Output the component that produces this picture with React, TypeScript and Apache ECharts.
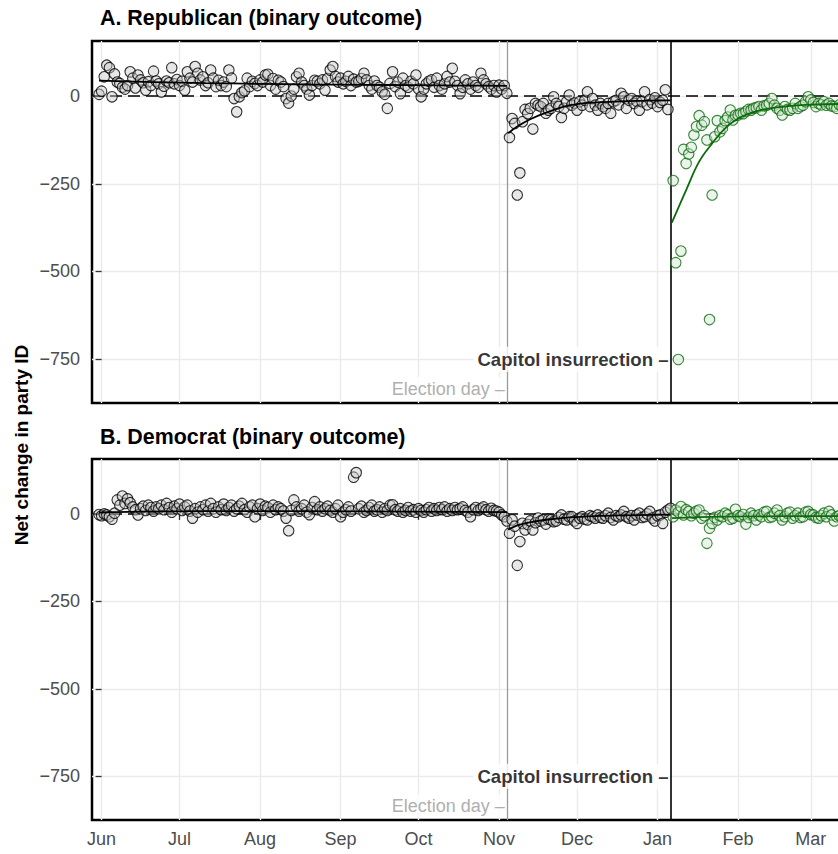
import React, { useEffect, useRef } from 'react';
import * as echarts from 'echarts';

// Day index: 0 = 2020-06-01
const monthTickDays = [0, 30, 61, 92, 122, 153, 183, 214, 245, 273];
const monthTickLabels = ['Jun', 'Jul', 'Aug', 'Sep', 'Oct', 'Nov', 'Dec', 'Jan', 'Feb', 'Mar'];
const yTickValues = [-750, -500, -250, 0];

const electionDay = 156; // line drawn just after Nov 3
const capitolDay = 219; // Jan 6

// Republican
const repPreStart = -1;
const repPre = [5, 14, 55, 88, 81, -2, 63, 40, 36, 25,
  20, 30, 69, 51, 23, 60, 46, 38, 17, 41,
  30, 71, 43, 35, 12, 28, 43, 38, 81, 35,
  47, 30, 42, 17, 69, 51, 40, 84, 65, 46,
  55, 30, 38, 74, 51, 27, 45, 30, 40, 27,
  74, 51, -7, -45, -2, 10, 15, 51, 27, 42,
  36, 30, 46, 40, 60, 62, 30, 50, 20, 45,
  40, 27, -7, -20, 0, 20, 55, 65, 40, 30,
  20, 3, 30, 45, 42, 35, 46, 17, 50, 74,
  84, 56, 40, 51, 35, 42, 56, 30, 48, 40,
  42, 50, 65, 46, 30, 20, 43, 30, 25, 12,
  5, -35, 36, 69, 27, 40, 7, 51, 30, 25,
  42, 35, 60, 20, -2, 20, 35, 42, 46, 25,
  51, 30, 20, 35, 56, 40, 79, 42, 30, 7,
  25, 46, 35, 20, 40, 30, 25, 65, 46, 35,
  27, 20, 30, 12, 31, 20, 30, 8];
const repPostStart = 157;
const repPost = [-118, -64, -78, -282, -219, -73, -38, -50, -35, -94,
  -21, -26, -30, -21, -49, -40, -35, -2, -21, -30,
  -61, -35, -16, 3, -26, -20, -40, -16, -26, -12,
  12, -30, -7, -26, -40, -21, -30, -35, -21, -49,
  -16, -12, -25, 8, -2, -35, -12, -7, -21,
  -15, -40, -16, 12, -25, -10, -20, -5, -30, -18,
  -12, 18, -38];
const repJanStart = 220;
const repJan = [-241, -475, -751, -442, -152, -192, -165, -146, -111, -87,
  -56, -83, -73, -125, -637, -282, -116, -70, -102, -92,
  -70, -60, -40, -68, -55, -54, -49, -50, -44, -38,
  -40, -35, -33, -30, -40, -28, -26, -21, -7, -26,
  -35, -40, -54, -30, -38, -40, -35, -21, -35, -30,
  -26, -16, -2, -11, -18, -30, -21, -25, -16, -26,
  -21, -28, -30, -35, -25, -30, -22];
const repPreFitDays = [-1, 20, 40, 60, 80, 100, 120, 140, 156];
const repPreFitVals = [44, 40, 37, 35, 33, 32, 31, 30, 29];
const repPostFitDays = [156.5, 160, 165, 172, 178, 185, 191, 200, 210, 219];
const repPostFitVals = [-106, -87, -66, -45, -30, -21, -18, -15, -13, -12];
const repJanFitDays = [219.5, 225, 230, 235, 240, 245, 250, 255, 265, 275, 290];
const repJanFitVals = [-361, -268, -187, -135, -92, -64, -48, -38, -28, -24, -22];

// Democrat
const demPreStart = -1;
const demPre = [-2, -5, 0, -3, -8, -15, 2, 40, 25, 51,
  30, 43, 32, 20, 12, -3, 15, 22, 10, 25,
  18, 8, 20, 15, 25, 12, 30, 18, 5, 22,
  15, 28, 10, 20, 25, 8, -12, 15, 5, 20,
  12, 25, 8, 30, 15, 5, 20, 12, 28, 10,
  18, 25, 8, 15, 22, 30, 12, 5, 20, 25,
  -8, 15, 28, 10, 22, 18, 5, 25, 12, 20,
  15, 8, -12, -48, 10, 40, 20, 8, 15, 25,
  5, -2, 18, 35, 12, 20, 8, 15, 22, 10,
  5, 15, 25, -8, 5, 12, 20, 8, 105, 118,
  15, 22, 5, 10, 18, 25, 8, 12, 20, 5,
  15, 10, 25, 26, 12, 8, 15, 5, 10, 18,
  8, 12, 5, 15, 10, 5, 12, 18, 8, 15,
  10, 18, 12, 20, 8, 15, 10, 18, 12, 15,
  20, 10, 5, -8, 12, 18, 10, 15, 20, 12,
  8, 16, 10, 8, 5, -3, -8, -20];
const demPostStart = 157;
const demPost = [-55, -17, -35, -147, -79, -27, -46, -30, -20, -46,
  -25, -12, -20, -17, -29, -15, -17, -22, -20, -10,
  -3, -15, -17, -8, -8, -20, -27, -12, -8, -15,
  -17, -5, -8, -12, -3, -10, -12, -5, 2, -10,
  -17, -5, -8, -3, 7, -8, -12, -5, -17, -3,
  2, -10, -8, 0, 7, -12, -20, -5, -3, -27,
  5, 11, 16];
const demJanStart = 220;
const demJan = [-8, 11, 5, 21, -3, 12, 7, -5, 2, 8,
  11, -12, -5, -84, -41, -27, -10, -17, -5, -8,
  2, -3, -15, -12, 13, -5, -8, -2, -29, -10,
  2, -5, -17, -3, -8, 5, 7, -10, -8, 2,
  11, -5, -17, -8, 2, 5, -12, -5, 2, -10,
  -8, 5, 7, -2, -3, -10, -12, -5, 2, -8,
  7, -3, -20, -8, -5, -10, -3];
const demPreFitDays = [-1, 40, 100, 156];
const demPreFitVals = [4, 8, 7, 5];
const demPostFitDays = [156.5, 160, 165, 172, 180, 190, 200, 219];
const demPostFitVals = [-45, -33, -24, -16, -10, -6, -4, -2];
const demJanFitDays = [219.5, 230, 250, 290];
const demJanFitVals = [-12, -9, -7, -6];

const FONT = '"Liberation Sans", Arial, Helvetica, sans-serif';

const pts = (start: number, vals: number[]) => vals.map((v, i) => [start + i, v]);
const line = (days: number[], vals: number[]) => days.map((d, i) => [d, vals[i]]);
const fmtY = (v: number) => (v < 0 ? '\u2212' + Math.abs(v) : String(v));

function panelSeries(i: number, pre: number[][], post: number[][], jan: number[][],
  preFit: number[][], postFit: number[][], janFit: number[][]) {
  const blackStyle = { color: 'rgba(200,200,200,0.55)', borderColor: '#000', borderWidth: 1.1 };
  const greenStyle = { color: 'rgba(210,230,210,0.55)', borderColor: '#0b6b0b', borderWidth: 1.1 };
  const base = { xAxisIndex: i, yAxisIndex: i };
  const size = 10.5;
  return [
    {
      ...base, type: 'scatter', data: pre, symbolSize: size, itemStyle: blackStyle, z: 2,
      markLine: {
        silent: true, symbol: 'none', label: { show: false }, z: 1,
        data: [
          { yAxis: 0, lineStyle: { color: '#000', width: 1.5, type: [12, 6] } },
          { xAxis: electionDay, lineStyle: { color: '#9a9a9a', width: 1.3, type: 'solid' } },
          { xAxis: capitolDay, lineStyle: { color: '#000', width: 1.6, type: 'solid' } },
        ],
      },
    },
    { ...base, type: 'scatter', data: post, symbolSize: size, itemStyle: blackStyle, z: 2 },
    { ...base, type: 'scatter', data: jan, symbolSize: size, itemStyle: greenStyle, z: 2 },
    { ...base, type: 'line', data: preFit, smooth: 0.4, symbol: 'none', lineStyle: { color: '#000', width: 1.8 }, z: 3 },
    { ...base, type: 'line', data: postFit, smooth: 0.4, symbol: 'none', lineStyle: { color: '#000', width: 1.8 }, z: 3 },
    { ...base, type: 'line', data: janFit, smooth: 0.4, symbol: 'none', lineStyle: { color: '#0b6b0b', width: 1.8 }, z: 3 },
    {
      ...base, type: 'scatter', symbolSize: 0, silent: true, z: 6, clip: false,
      label: {
        show: true, position: 'left', distance: 1, backgroundColor: '#fff',
        padding: [3, 1, 3, 4], fontSize: 18, fontFamily: FONT,
      },
      data: [
        { value: [capitolDay, -750], label: { formatter: 'Capitol insurrection \u2013', fontWeight: 'bold', fontSize: 18.6, color: '#000' } },
        { value: [electionDay, -835], label: { formatter: 'Election day \u2013', fontWeight: 'normal', color: '#999999' } },
      ],
    },
  ];
}

export default function App() {
  const ref = useRef<HTMLDivElement>(null);
  useEffect(() => {
    if (!ref.current) return;
    const chart = echarts.init(ref.current, null, { renderer: 'svg' });
    const grids = [
      { left: 92, top: 41, width: 763, height: 362 },
      { left: 92, top: 459, width: 763, height: 361 },
    ].map((g) => ({ ...g, show: true, borderColor: '#000', borderWidth: 2.5, backgroundColor: 'transparent' }));
    const xAxes = [0, 1].map((i) => ({
      type: 'value', gridIndex: i, min: -3.7, max: 290,
      axisLine: { show: false },
      axisTick: { show: i === 1, customValues: monthTickDays, length: 6, lineStyle: { color: '#333', width: 1.3 } },
      axisLabel: {
        show: i === 1, customValues: monthTickDays, margin: 10,
        formatter: (v: number) => monthTickLabels[monthTickDays.indexOf(v)] ?? '',
        color: '#4d4d4d', fontSize: 18, fontFamily: FONT,
      },
      splitLine: { show: true, lineStyle: { color: '#ebebeb', width: 1.4 } },
    }));
    const yAxes = [0, 1].map((i) => ({
      type: 'value', gridIndex: i, min: -875, max: 157,
      axisLine: { show: false },
      axisTick: { show: true, customValues: yTickValues, length: 6, lineStyle: { color: '#333', width: 1.3 } },
      axisLabel: { customValues: yTickValues, formatter: fmtY, margin: 12, color: '#4d4d4d', fontSize: 18, fontFamily: FONT },
      splitLine: { show: true, lineStyle: { color: '#ebebeb', width: 1.4 } },
    }));
    chart.setOption({
      animation: false,
      backgroundColor: '#fff',
      title: [
        { text: 'A. Republican (binary outcome)', left: 100, top: 7, padding: 0, textStyle: { fontSize: 21.4, fontWeight: 'bold', color: '#000', fontFamily: FONT } },
        { text: 'B. Democrat (binary outcome)', left: 100, top: 426, padding: 0, textStyle: { fontSize: 21.4, fontWeight: 'bold', color: '#000', fontFamily: FONT } },
      ],
      graphic: [
        {
          type: 'text', x: 21, y: 445, rotation: Math.PI / 2,
          style: { text: 'Net change in party ID', font: `bold 19px ${FONT}`, align: 'center', verticalAlign: 'middle', fill: '#000' },
        },
      ],
      grid: grids,
      xAxis: xAxes,
      yAxis: yAxes,
      series: [
        ...panelSeries(0, pts(repPreStart, repPre), pts(repPostStart, repPost), pts(repJanStart, repJan),
          line(repPreFitDays, repPreFitVals), line(repPostFitDays, repPostFitVals), line(repJanFitDays, repJanFitVals)),
        ...panelSeries(1, pts(demPreStart, demPre), pts(demPostStart, demPost), pts(demJanStart, demJan),
          line(demPreFitDays, demPreFitVals), line(demPostFitDays, demPostFitVals), line(demJanFitDays, demJanFitVals)),
      ],
    });
    return () => chart.dispose();
  }, []);
  return (
    <div style={{ position: 'fixed', left: 0, top: 0, width: 838, height: 854, overflow: 'hidden', background: '#fff' }}>
      <div ref={ref} style={{ width: 870, height: 854 }} />
    </div>
  );
}
